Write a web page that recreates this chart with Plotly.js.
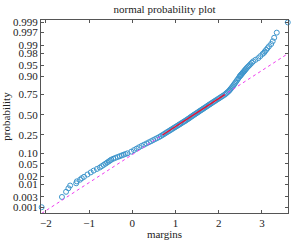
<!DOCTYPE html>
<html>
<head>
<meta charset="utf-8">
<script src="https://cdn.plot.ly/plotly-3.0.1.min.js"></script>
<style>html,body{margin:0;padding:0;background:#fff;}#chart{width:291px;height:240px;}</style>
</head>
<body>
<div id="chart"></div>
<script>
// ---- data ----
const probability = [
  0.001,0.003,0.005,0.007,0.009,0.011,0.013,0.015,0.017,0.019,
  0.023,0.027,0.031,0.035,0.039,0.043,0.047,0.051,0.055,0.059,
  0.063,0.067,0.071,0.075,0.079,0.083,0.087,0.091,0.095,0.099,
  0.109,0.119,0.129,0.139,0.149,0.159,0.169,0.179,0.189,0.199,
  0.209,0.219,0.229,0.239,0.249,0.259,0.269,0.279,0.289,0.299,
  0.309,0.319,0.329,0.339,0.349,0.359,0.369,0.379,0.389,0.399,
  0.409,0.419,0.429,0.439,0.449,0.459,0.469,0.479,0.489,0.499,
  0.509,0.519,0.529,0.539,0.549,0.559,0.569,0.579,0.589,0.599,
  0.609,0.619,0.629,0.639,0.649,0.659,0.669,0.679,0.689,0.699,
  0.709,0.719,0.729,0.739,0.749,0.759,0.769,0.779,0.789,0.799,
  0.809,0.819,0.829,0.839,0.849,0.859,0.869,0.879,0.889,
  0.899,0.903,0.907,0.911,0.915,0.919,0.923,0.927,0.931,0.935,
  0.939,0.943,0.947,0.951,0.955,0.959,0.963,0.967,0.971,0.975,0.979,
  0.981,0.983,0.985,0.987,0.989,0.991,0.993,0.995,0.997,0.999
];
const margins = [
  -2.10,-1.63,-1.535,-1.48,-1.44,-1.30,-1.285,-1.21,-1.17,-1.12,
  -1.039,-0.963,-0.895,-0.821,-0.753,-0.706,-0.663,-0.622,-0.585,-0.549,
  -0.516,-0.487,-0.439,-0.390,-0.341,-0.294,-0.246,-0.201,-0.157,-0.112,
  -0.024,0.039,0.099,0.156,0.214,0.272,0.329,0.384,0.436,0.484,
  0.532,0.578,0.624,0.662,0.699,0.733,0.766,0.799,0.833,0.865,
  0.896,0.927,0.958,0.989,1.019,1.049,1.078,1.107,1.136,1.165,
  1.194,1.222,1.250,1.276,1.302,1.327,1.352,1.377,1.402,1.427,
  1.454,1.480,1.506,1.532,1.558,1.584,1.611,1.637,1.664,1.691,
  1.718,1.745,1.772,1.800,1.828,1.856,1.886,1.916,1.945,1.977,
  2.008,2.039,2.071,2.103,2.138,2.163,2.189,2.215,2.242,2.261,
  2.281,2.302,2.323,2.345,2.365,2.386,2.409,2.432,2.457,
  2.483,2.495,2.509,2.523,2.538,2.553,2.569,2.586,2.602,2.620,
  2.639,2.660,2.684,2.710,2.737,2.767,2.798,2.852,2.916,2.963,3.016,
  3.05,3.07,3.10,3.13,3.165,3.215,3.25,3.285,3.345,3.60
];
// quartile points of the reference line (probability, margin)
const refProbability = [0.25, 0.75];
const refMargins = [0.70, 2.14];
// axis ticks
const yTickProbability = [0.001,0.003,0.01,0.02,0.05,0.10,0.25,0.50,0.75,0.90,0.95,0.98,0.99,0.997,0.999];
const yTickLabels = ['0.001','0.003','0.01','0.02','0.05','0.10','0.25','0.50','0.75','0.90','0.95','0.98','0.99','0.997','0.999'];
const xTickValues = [-2,-1,0,1,2,3];

// inverse normal CDF (probability axis transform)
function norminv(p){
  const a=[-3.969683028665376e+01,2.209460984245205e+02,-2.759285104469687e+02,1.383577518672690e+02,-3.066479806614716e+01,2.506628277459239e+00];
  const b=[-5.447609879822406e+01,1.615858368580409e+02,-1.556989798598866e+02,6.680131188771972e+01,-1.328068155288572e+01];
  const c=[-7.784894002430293e-03,-3.223964580411365e-01,-2.400758277161838e+00,-2.549732539343734e+00,4.374664141464968e+00,2.938163982698783e+00];
  const d=[7.784695709041462e-03,3.224671290700398e-01,2.445134137142996e+00,3.754408661907416e+00];
  const pl=0.02425, ph=1-pl; let q,r;
  if(p<pl){q=Math.sqrt(-2*Math.log(p));return (((((c[0]*q+c[1])*q+c[2])*q+c[3])*q+c[4])*q+c[5])/((((d[0]*q+d[1])*q+d[2])*q+d[3])*q+1);}
  if(p<=ph){q=p-0.5;r=q*q;return (((((a[0]*r+a[1])*r+a[2])*r+a[3])*r+a[4])*r+a[5])*q/(((((b[0]*r+b[1])*r+b[2])*r+b[3])*r+b[4])*r+1);}
  q=Math.sqrt(-2*Math.log(1-p));return -(((((c[0]*q+c[1])*q+c[2])*q+c[3])*q+c[4])*q+c[5])/((((d[0]*q+d[1])*q+d[2])*q+d[3])*q+1);
}

const zData = probability.map(norminv);
const zRef = refProbability.map(norminv);
const slope = (zRef[1]-zRef[0])/(refMargins[1]-refMargins[0]);
const xMin = Math.min(...margins), xMax = Math.max(...margins);
const lineAt = x => zRef[0] + slope*(x-refMargins[0]);

const FONT = 'Liberation Serif, Times New Roman, serif';

const traces = [
  {x: margins, y: zData, type:'scatter', mode:'markers', cliponaxis:false,
   marker:{symbol:'circle-open', size:5, color:'#3d95cc', line:{width:1, color:'#3d95cc'}},
   hoverinfo:'skip'},
  {x:[xMin, xMax], y:[lineAt(xMin), lineAt(xMax)], type:'scatter', mode:'lines',
   line:{color:'#f03cf0', width:1, dash:'3px,3px'}, hoverinfo:'skip'},
  {x: refMargins, y: zRef, type:'scatter', mode:'lines',
   line:{color:'#e8102a', width:1.3}, hoverinfo:'skip'}
];

const layout = {
  width:291, height:240,
  margin:{l:41, r:3, t:20, b:27, pad:0},
  paper_bgcolor:'#fff', plot_bgcolor:'#fff',
  showlegend:false,
  font:{family:FONT, size:11, color:'#222'},
  title:{text:'normal probability plot', font:{family:FONT, size:11, color:'#222'},
         x:0.5, xref:'paper', y:0.963, yref:'container', yanchor:'middle'},
  xaxis:{range:[-2.115, 3.605], tickmode:'array', tickvals:xTickValues,
         ticks:'inside', ticklen:3, tickcolor:'#555', tickwidth:1,
         showline:true, linecolor:'#555', linewidth:1, mirror:'ticks',
         showgrid:false, zeroline:false,
         tickfont:{family:FONT, size:11, color:'#222'},
         title:{text:'margins', font:{family:FONT, size:11, color:'#222'}, standoff:1}},
  yaxis:{range:[-3.284, 3.17], tickmode:'array',
         tickvals:yTickProbability.map(norminv), ticktext:yTickLabels,
         ticks:'inside', ticklen:3, tickcolor:'#555', tickwidth:1,
         showline:true, linecolor:'#555', linewidth:1, mirror:'ticks',
         showgrid:false, zeroline:false,
         tickfont:{family:FONT, size:11, color:'#222'},
         title:{text:'probability', font:{family:FONT, size:11, color:'#222'}, standoff:2}}
};

Plotly.newPlot('chart', traces, layout, {staticPlot:true, displayModeBar:false});
</script>
</body>
</html>
